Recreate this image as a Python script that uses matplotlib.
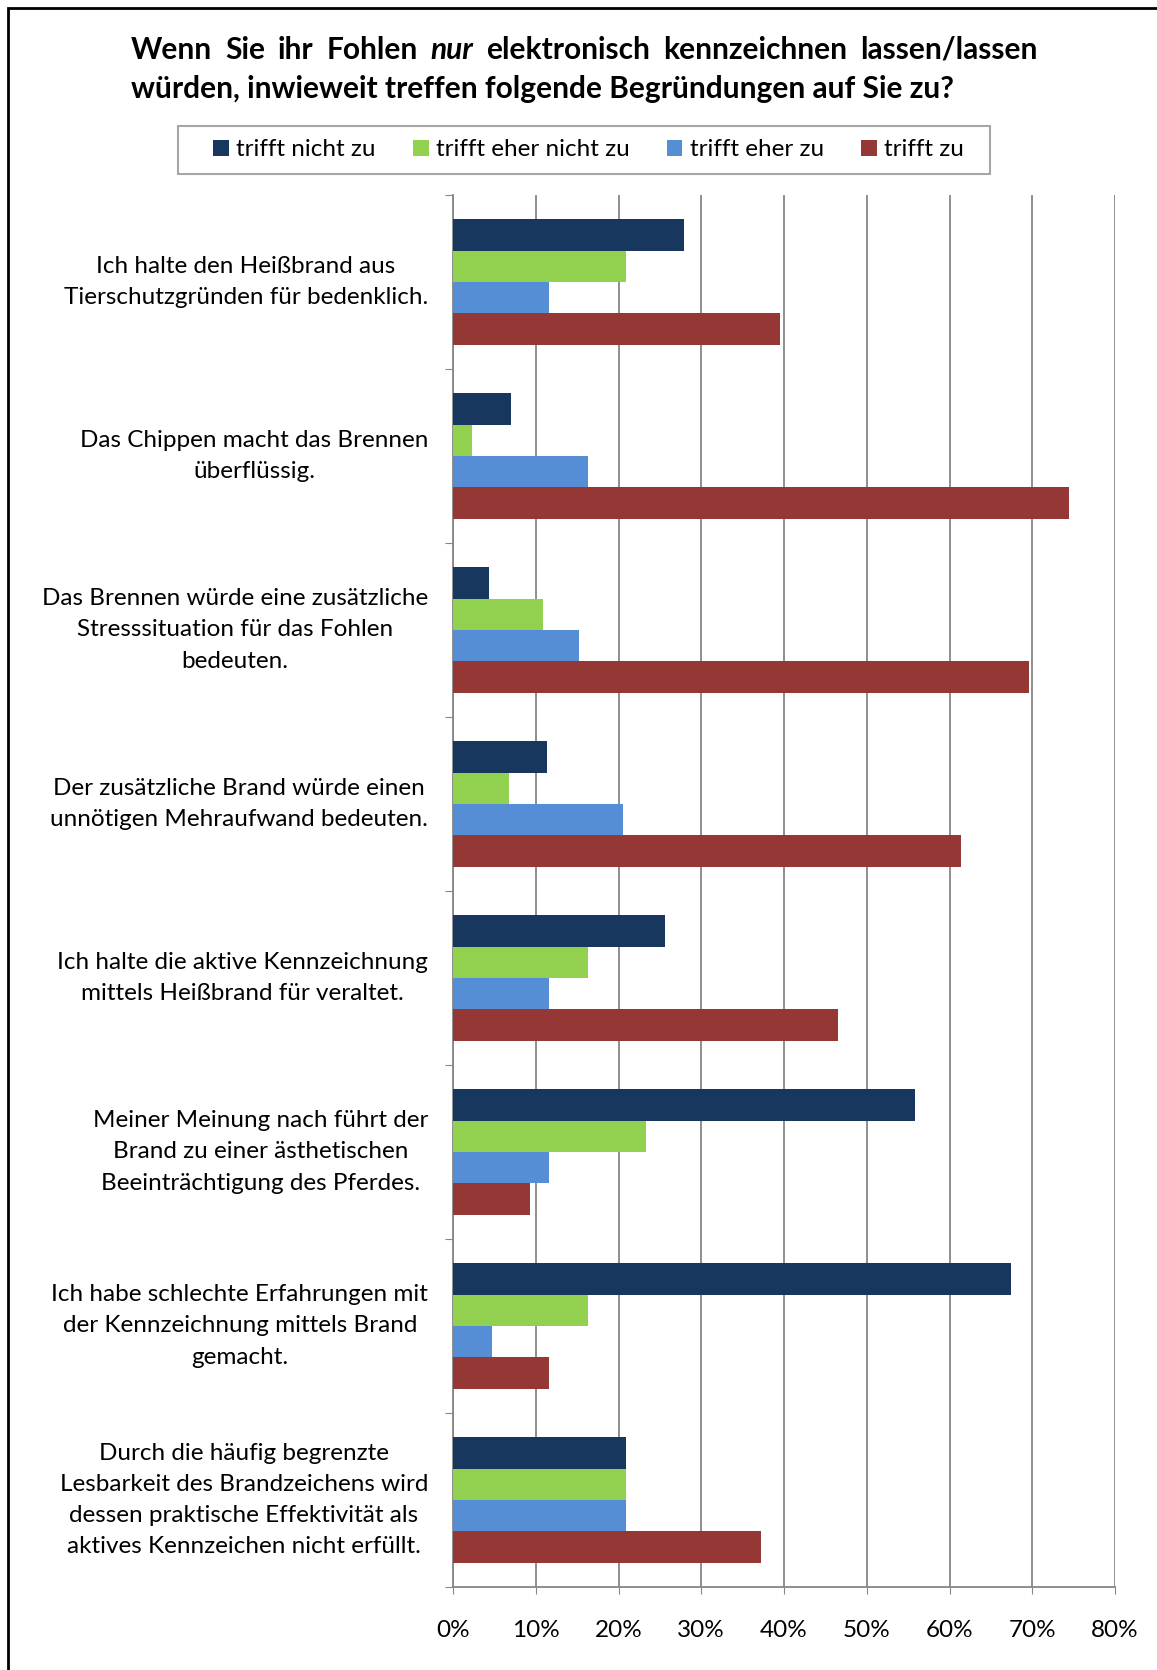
import numpy as np
import matplotlib
matplotlib.use("Agg")
import matplotlib.pyplot as plt
from matplotlib.patches import Rectangle, Patch

plt.rcParams['font.family'] = ['Lato', 'DejaVu Sans']

# Survey answers, percent per statement
statements = [
    "Ich halte den Heißbrand aus\nTierschutzgründen für bedenklich.",
    "Das Chippen macht das Brennen\nüberflüssig.",
    "Das Brennen würde eine zusätzliche\nStresssituation für das Fohlen\nbedeuten.",
    "Der zusätzliche Brand würde einen\nunnötigen Mehraufwand bedeuten.",
    "Ich halte die aktive Kennzeichnung\nmittels Heißbrand für veraltet.",
    "Meiner Meinung nach führt der\nBrand zu einer ästhetischen\nBeeinträchtigung des Pferdes.",
    "Ich habe schlechte Erfahrungen mit\nder Kennzeichnung mittels Brand\ngemacht.",
    "Durch die häufig begrenzte\nLesbarkeit des Brandzeichens wird\ndessen praktische Effektivität als\naktives Kennzeichen nicht erfüllt.",
]
answer_labels = ["trifft nicht zu", "trifft eher nicht zu", "trifft eher zu", "trifft zu"]
nicht_zu      = [27.9, 7.0, 4.3, 11.4, 25.6, 55.8, 67.4, 20.9]
eher_nicht_zu = [20.9, 2.3, 10.9, 6.8, 16.3, 23.3, 16.3, 20.9]
eher_zu       = [11.6, 16.3, 15.2, 20.5, 11.6, 11.6, 4.7, 20.9]
zu            = [39.5, 74.4, 69.6, 61.4, 46.5, 9.3, 11.6, 37.2]
xticks = [0, 10, 20, 30, 40, 50, 60, 70, 80]

colors = ['#17375E', '#92D050', '#558ED5', '#953735']
series = [nicht_zu, eher_nicht_zu, eher_zu, zu]

W, H = 1157, 1670
fig = plt.figure(figsize=(W / 100, H / 100), dpi=100)
ax = fig.add_axes([453 / W, 1 - 1587 / H, (1115 - 453) / W, (1587 - 195) / H])

y = np.arange(len(statements))
h = 0.18
for k, (vals, col) in enumerate(zip(series, colors)):
    ax.barh(y + (k - 1.5) * h, vals, height=h, color=col, zorder=3,
            label=answer_labels[k])

ax.set_xlim(0, 80)
ax.set_ylim(len(statements) - 0.5, -0.5)
ax.set_xticks(xticks)
ax.set_xticklabels([f"{t}%" for t in xticks], fontsize=17.5)
ax.tick_params(axis='x', length=5, color='#868686', pad=19)
ax.set_yticks(np.arange(len(statements) + 1) - 0.5)
ax.set_yticklabels([])
ax.tick_params(axis='y', length=6, color='#868686')
ax.grid(axis='x', color='#868686', linewidth=1.3, zorder=0)
for s in ['top', 'right']:
    ax.spines[s].set_visible(False)
for s in ['left', 'bottom']:
    ax.spines[s].set_color('#868686')
    ax.spines[s].set_linewidth(1.3)

# category labels, block right-aligned, lines centred
for i, txt in enumerate(statements):
    ax.text(-3.0, i, txt, ha='right', va='center', multialignment='center',
            fontsize=17.5, linespacing=1.6)

# title, first line justified
renderer = fig.canvas.get_renderer()
line1 = [("Wenn", 'normal'), ("Sie", 'normal'), ("ihr", 'normal'), ("Fohlen", 'normal'),
         ("nur", 'italic'), ("elektronisch", 'normal'), ("kennzeichnen", 'normal'),
         ("lassen/lassen", 'normal')]
x0, x1 = 131, 1037
objs = []
for word, style in line1:
    t = fig.text(0, 1 - 50 / H, word, fontsize=21.5, fontweight='bold', style=style,
                 va='center', ha='left')
    objs.append(t)
widths = [o.get_window_extent(renderer).width for o in objs]
gap = (x1 - x0 - sum(widths)) / (len(objs) - 1)
xpos = x0
for o, w in zip(objs, widths):
    o.set_x(xpos / W)
    xpos += w + gap
fig.text(x0 / W, 1 - 89 / H,
         "würden, inwieweit treffen folgende Begründungen auf Sie zu?",
         fontsize=21.5, fontweight='bold', va='center', ha='left')

# legend: box drawn separately, entries spread across the inner span
fig.patches.append(Rectangle((178 / W, 1 - 174 / H), (990 - 178) / W, 48 / H,
                             transform=fig.transFigure, fill=False,
                             edgecolor='#A6A6A6', linewidth=1.5))
handles = [Patch(facecolor=c, edgecolor='none') for c in colors]
fig.legend(handles, answer_labels, loc='center', ncol=4,
           bbox_to_anchor=(213 / W, 1 - 170 / H, (964 - 213) / W, 40 / H),
           mode='expand', fontsize=17.5, frameon=False, borderpad=0,
           borderaxespad=0, handlelength=0.65, handleheight=0.65,
           handletextpad=0.3, columnspacing=1.0)

# outer frame
fig.patches.append(Rectangle((7.5 / W, -0.01), 1.02, 1 - 7.5 / H + 0.01,
                             transform=fig.transFigure, fill=False,
                             edgecolor='black', linewidth=2))

fig.savefig("out.png", dpi=100)
